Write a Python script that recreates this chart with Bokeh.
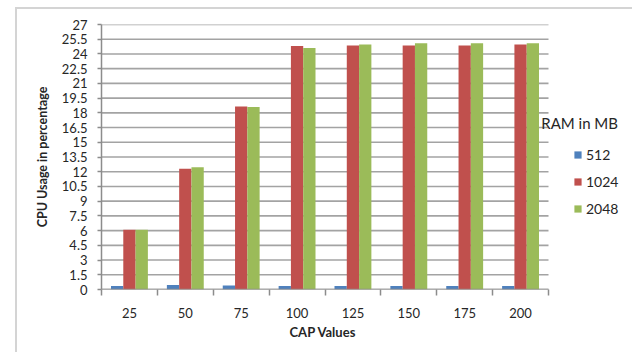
import numpy as np
from bokeh.plotting import figure
from bokeh.models import (ColumnDataSource, FixedTicker, Legend, LegendItem, Label, Range1d, Title)
from bokeh.embed import file_html
from bokeh.resources import INLINE

cap_values = ["25", "50", "75", "100", "125", "150", "175", "200"]
ram_512 = [0.35, 0.45, 0.4, 0.35, 0.35, 0.35, 0.35, 0.35]
ram_1024 = [6.1, 12.3, 18.65, 24.8, 24.85, 24.85, 24.85, 24.95]
ram_2048 = [6.1, 12.45, 18.6, 24.6, 24.95, 25.1, 25.1, 25.1]
series_names = ["512", "1024", "2048"]
series_colors = ["#4F81BD", "#C0504D", "#9BBB59"]
y_ticks = [i * 1.5 for i in range(19)]

FONT = "Lato"
W, H = 632, 352
LEFT, TOP, BOTTOM, RIGHT = 101, 24, 63, 2
n = len(cap_values)
frame_w = W - LEFT - RIGHT
x_end = n * frame_w / 447.0

p = figure(width=W, height=H, output_backend="svg", toolbar_location=None,
           x_range=Range1d(0, x_end), y_range=Range1d(0, 27),
           min_border_left=LEFT, min_border_top=TOP, min_border_right=RIGHT,
           min_border_bottom=BOTTOM)
p.outline_line_color = None
p.background_fill_color = "white"
p.border_fill_alpha = 0
p.styles = {
    "background": "linear-gradient(#d4d4d4,#d4d4d4) 15px 7px / 620px 2px no-repeat, "
                  "linear-gradient(#d4d4d4,#d4d4d4) 15px 7px / 2px 360px no-repeat, white"
}

# horizontal gridlines, only across the category area
p.segment(x0=[0] * len(y_ticks), x1=[n] * len(y_ticks), y0=y_ticks, y1=y_ticks,
          line_color="#a3a3a3", line_width=1.6)

centers = np.arange(n) + 0.5
bw = 0.22
renderers = []
for k, (vals, col) in enumerate(zip([ram_512, ram_1024, ram_2048], series_colors)):
    src = ColumnDataSource(dict(x=centers + (k - 1) * bw, top=vals))
    r = p.vbar(x="x", top="top", width=bw, bottom=0, source=src,
               fill_color=col, line_color=None)
    renderers.append(r)

# x axis baseline across the category area
p.segment(x0=[0], x1=[n], y0=[0], y1=[0], line_color="#8c8c8c", line_width=1.6)

# x axis
p.xaxis.ticker = FixedTicker(ticks=list(centers), minor_ticks=list(range(n + 1)))
p.xaxis.major_label_overrides = {float(c): lab for c, lab in zip(centers, cap_values)}
p.xaxis.major_tick_out = 0
p.xaxis.major_tick_in = 0
p.xaxis.minor_tick_out = 6
p.xaxis.minor_tick_in = 0
p.xaxis.minor_tick_line_color = "#8c8c8c"
p.xaxis.minor_tick_line_width = 1.5
p.xaxis.axis_line_color = None
p.xaxis.major_label_standoff = 12
p.xgrid.grid_line_color = None
p.ygrid.grid_line_color = None

# y axis
p.yaxis.ticker = FixedTicker(ticks=y_ticks)
p.yaxis.major_label_overrides = {t: ("%g" % t) for t in y_ticks}
p.yaxis.major_tick_out = 4
p.yaxis.major_tick_in = 0
p.yaxis.minor_tick_line_color = None
p.yaxis.major_tick_line_color = "#8c8c8c"
p.yaxis.major_tick_line_width = 1.5
p.yaxis.axis_line_color = "#8c8c8c"
p.yaxis.axis_line_width = 1.5
p.yaxis.major_label_standoff = 10
p.yaxis.axis_label = "CPU Usage in percentage"
p.yaxis.axis_label_standoff = 9

for ax in (p.xaxis, p.yaxis):
    ax.major_label_text_font = FONT
    ax.major_label_text_font_size = "13px"
    ax.major_label_text_color = "#262626"
    ax.axis_label_text_font = FONT
    ax.axis_label_text_font_size = "12.5px"
    ax.axis_label_text_font_style = "bold"
    ax.axis_label_text_color = "#262626"

# x axis title, centred under the category area
xt = Title(text="CAP Values", align="left", offset=188, standoff=2,
           text_font=FONT, text_font_size="13px", text_font_style="bold",
           text_color="#262626")
p.add_layout(xt, "below")

legend = Legend(items=[LegendItem(label=nm, renderers=[r]) for nm, r in zip(series_names, renderers)],
                location=(472, 72), padding=0, margin=0, spacing=10,
                glyph_width=9, glyph_height=9, label_standoff=4,
                label_text_font=FONT, label_text_font_size="14px", label_text_color="#262626",
                background_fill_alpha=0, border_line_color=None)
p.add_layout(legend, "center")

title = Label(x=7.87, y=16.95, text="RAM in MB", text_font=FONT, text_font_size="15px",
              text_color="#262626", text_baseline="middle", text_align="left")
p.add_layout(title)

open("out.html", "w").write(file_html(p, INLINE))
